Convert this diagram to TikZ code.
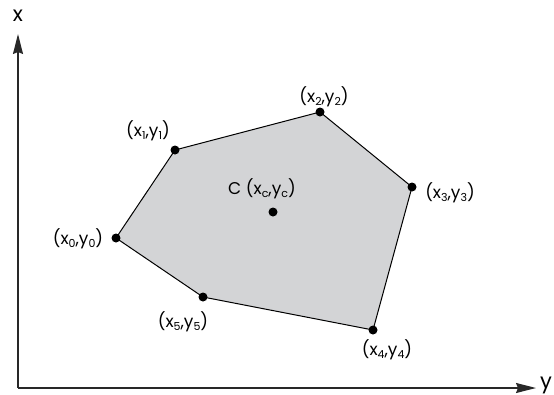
\documentclass[tikz,border=0pt]{standalone}
\usepackage{fontspec}
\setmainfont{Poppins}
\usetikzlibrary{arrows.meta}
\definecolor{polyfill}{RGB}{211,212,214}
\definecolor{axiscol}{RGB}{40,40,40}
\newcommand{\lo}[1]{\raisebox{-0.3ex}{\fontsize{11}{11}\selectfont #1}}
\tikzset{
  vert/.style={circle,fill=black,inner sep=0pt,minimum size=9pt},
  lbl/.style={font=\fontsize{17}{17}\selectfont,inner sep=0pt},
  axlbl/.style={font=\fontsize{21}{21}\selectfont,inner sep=0pt},
  axis/.style={draw=axiscol,line width=1.3pt,-{Stealth[length=20pt,width=10pt,inset=2pt]}},
  edge/.style={draw=black,line width=1pt}
}
\begin{document}
\begin{tikzpicture}[x=1pt,y=-1pt]
\useasboundingbox (0,0) rectangle (554,394);
\coordinate (O) at (18,388);
\coordinate (xe) at (18,34);
\coordinate (ye) at (536,388);
\node[axlbl] (xl) at (18,16) {x};
\node[axlbl] (yl) at (546,385) {y};
\draw[axis] (O) -- (xe);
\draw[axis] (O) -- (ye);
\coordinate (p0) at (116,238);
\coordinate (p1) at (175,150);
\coordinate (p2) at (320,112);
\coordinate (p3) at (412,187);
\coordinate (p4) at (373,330);
\coordinate (p5) at (203,297);
\fill[polyfill] (p0) -- (p1) -- (p2) -- (p3) -- (p4) -- (p5) -- cycle;
\draw[edge] (p0) -- (p1) -- (p2) -- (p3) -- (p4) -- (p5) -- cycle;
\foreach \p in {p0,p1,p2,p3,p4,p5} \node[vert] at (\p) {};
\node[vert] (c) at (273,212) {};
\node[lbl] (l0) at (78,239) {(x\lo{0},y\lo{0})};
\node[lbl] (l1) at (148,131) {(x\lo{1},y\lo{1})};
\node[lbl] (l2) at (324,97) {(x\lo{2},y\lo{2})};
\node[lbl] (l3) at (450,193) {(x\lo{3},y\lo{3})};
\node[lbl] (l4) at (387,350) {(x\lo{4},y\lo{4})};
\node[lbl] (l5) at (183,322) {(x\lo{5},y\lo{5})};
\node[lbl] (lc) at (262,189) {C (x\lo{c},y\lo{c})};
\end{tikzpicture}
\end{document}
